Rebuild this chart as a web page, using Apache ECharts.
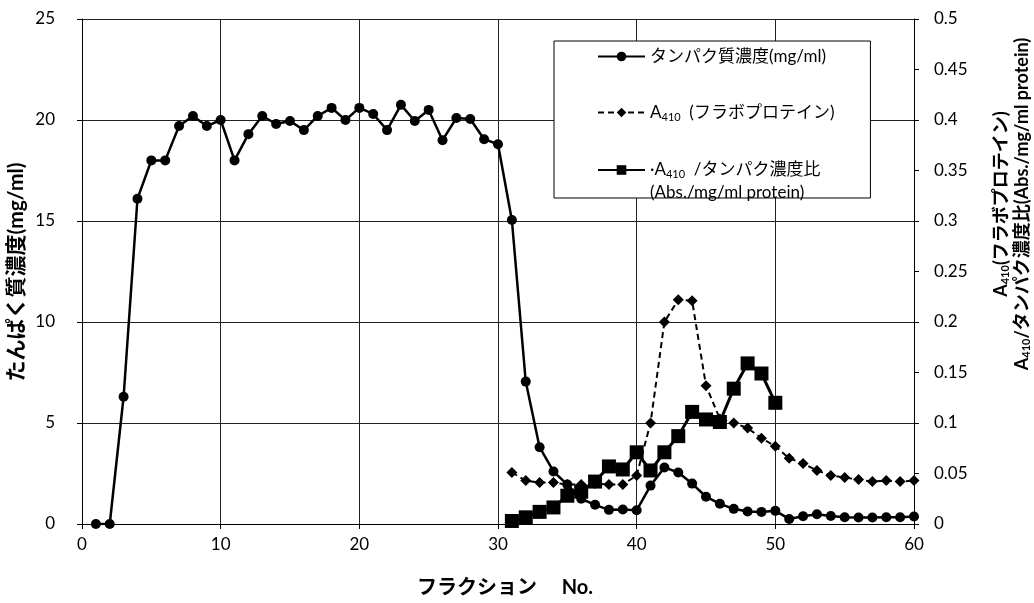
<!DOCTYPE html>
<html>
<head>
<meta charset="utf-8">
<script src="https://cdn.jsdelivr.net/npm/echarts@6/dist/echarts.min.js"></script>
<style>
  html, body { margin: 0; padding: 0; background: #fff; }
  #chart { width: 1034px; height: 603px; }
</style>
</head>
<body>
<div id="chart"></div>
<script>
var FONT = "Lato, 'Noto Sans CJK JP', sans-serif";

// protein concentration (mg/ml), fractions 1-60
var proteinFractions = [1, 2, 3, 4, 5, 6, 7, 8, 9, 10, 11, 12, 13, 14, 15, 16, 17, 18, 19, 20,
  21, 22, 23, 24, 25, 26, 27, 28, 29, 30, 31, 32, 33, 34, 35, 36, 37, 38, 39, 40,
  41, 42, 43, 44, 45, 46, 47, 48, 49, 50, 51, 52, 53, 54, 55, 56, 57, 58, 59, 60];
var proteinValues = [0, 0, 6.3, 16.1, 18.0, 18.0, 19.7, 20.2, 19.7, 20.0, 18.0, 19.3, 20.2, 19.8, 19.95, 19.5, 20.2, 20.6, 20.0, 20.6,
  20.3, 19.5, 20.75, 19.95, 20.5, 19.0, 20.1, 20.05, 19.05, 18.8, 15.05, 7.05, 3.8, 2.6, 1.95, 1.25, 0.95, 0.7, 0.72, 0.68,
  1.9, 2.8, 2.55, 2.0, 1.35, 1.0, 0.75, 0.62, 0.6, 0.65, 0.25, 0.38, 0.48, 0.4, 0.33, 0.32, 0.32, 0.33, 0.33, 0.37];

// A410 (flavoprotein), fractions 31-60
var flavoFractions = [31, 32, 33, 34, 35, 36, 37, 38, 39, 40, 41, 42, 43, 44, 45, 46, 47, 48, 49, 50,
  51, 52, 53, 54, 55, 56, 57, 58, 59, 60];
var flavoValues = [0.051, 0.043, 0.041, 0.041, 0.039, 0.039, 0.040, 0.039, 0.039, 0.048, 0.100, 0.200, 0.222, 0.221, 0.137, 0.104, 0.100, 0.095, 0.085, 0.077,
  0.065, 0.060, 0.053, 0.048, 0.046, 0.044, 0.042, 0.043, 0.042, 0.043];

// A410 / protein ratio, fractions 31-50
var ratioFractions = [31, 32, 33, 34, 35, 36, 37, 38, 39, 40, 41, 42, 43, 44, 45, 46, 47, 48, 49, 50];
var ratioValues = [0.003, 0.0066, 0.012, 0.0164, 0.028, 0.032, 0.042, 0.057, 0.054, 0.071, 0.053, 0.071, 0.087, 0.111, 0.1035, 0.101, 0.134, 0.159, 0.149, 0.12];

var xTicks = [0, 60, 10];
var leftTicks = [0, 25, 5];
var rightTicks = [0, 0.5, 0.05];

function pairs(xs, ys) {
  return xs.map(function (x, i) { return [x, ys[i]]; });
}

var legendLabels = {
  protein: 'タンパク質濃度(mg/ml)',
  flavo: 'A{sub|410}  (フラボプロテイン)',
  ratio: '·A{sub|410}  /タンパク濃度比'
};

var subStyle = { fontSize: 11, verticalAlign: 'bottom', padding: [9, 0, 0, 0], fontFamily: FONT };
var nameRich = {
  m: { font: 'bold 18px ' + FONT, fill: '#000' },
  s: { font: 'bold 11px ' + FONT, fill: '#000', verticalAlign: 'bottom', padding: [9, 0, 0, 0] }
};

var chart = echarts.init(document.getElementById('chart'), null, { renderer: 'canvas' });

var option = {
  backgroundColor: '#fff',
  animation: false,
  textStyle: { fontFamily: FONT },
  grid: { left: 82, right: 120, top: 19, bottom: 79 },
  legend: {
    orient: 'vertical',
    left: 554,
    top: 41,
    itemWidth: 47,
    itemHeight: 12,
    itemGap: 39,
    padding: [7, 36, 18, 43],
    backgroundColor: '#fff',
    borderColor: '#000',
    borderWidth: 1,
    data: ['protein', 'flavo', 'ratio'],
    formatter: function (name) { return legendLabels[name]; },
    textStyle: {
      fontSize: 17,
      color: '#000',
      fontFamily: FONT,
      rich: { sub: subStyle }
    }
  },
  xAxis: {
    type: 'value',
    min: xTicks[0], max: xTicks[1], interval: xTicks[2],
    axisLine: { lineStyle: { color: '#000', width: 1 } },
    axisTick: { show: true, length: 5, lineStyle: { color: '#000' } },
    axisLabel: { color: '#000', fontSize: 17, margin: 12, fontFamily: FONT },
    splitLine: { show: true, lineStyle: { color: '#222', width: 1 } }
  },
  yAxis: [
    {
      type: 'value',
      min: leftTicks[0], max: leftTicks[1], interval: leftTicks[2],
      axisLine: { show: true, lineStyle: { color: '#000', width: 1 } },
      axisTick: { show: true, length: 5, lineStyle: { color: '#000' } },
      axisLabel: { color: '#000', fontSize: 17, margin: 27, fontFamily: FONT },
      splitLine: { show: true, lineStyle: { color: '#222', width: 1 } }
    },
    {
      type: 'value',
      position: 'right',
      min: rightTicks[0], max: rightTicks[1], interval: rightTicks[2],
      axisLine: { show: true, lineStyle: { color: '#000', width: 1 } },
      axisTick: { show: true, length: 5, lineStyle: { color: '#000' } },
      axisLabel: { color: '#000', fontSize: 17, margin: 20, fontFamily: FONT },
      splitLine: { show: false }
    }
  ],
  series: [
    {
      name: 'protein',
      type: 'line',
      yAxisIndex: 0,
      data: pairs(proteinFractions, proteinValues),
      symbol: 'circle',
      symbolSize: 10,
      itemStyle: { color: '#000' },
      lineStyle: { color: '#000', width: 2.5 },
      z: 2
    },
    {
      name: 'flavo',
      type: 'line',
      yAxisIndex: 1,
      data: pairs(flavoFractions, flavoValues),
      symbol: 'diamond',
      symbolSize: 11,
      itemStyle: { color: '#000' },
      lineStyle: { color: '#000', width: 2, type: [6, 4] },
      z: 3
    },
    {
      name: 'ratio',
      type: 'line',
      yAxisIndex: 1,
      data: pairs(ratioFractions, ratioValues),
      symbol: 'rect',
      symbolSize: 14,
      itemStyle: { color: '#000' },
      lineStyle: { color: '#000', width: 3 },
      z: 4
    }
  ],
  graphic: [
    {
      type: 'text',
      x: 650, y: 193, z: 100,
      style: { text: '(Abs./mg/ml protein)', font: '17px ' + FONT, fill: '#000', verticalAlign: 'middle' }
    },
    {
      type: 'text',
      x: 16, y: 272, rotation: Math.PI / 2, z: 100,
      style: {
        text: 'たんぱく質濃度(mg/ml)', font: 'bold 21px ' + FONT, fill: '#000',
        align: 'center', verticalAlign: 'middle'
      }
    },
    {
      type: 'text',
      x: 505, y: 588, z: 100,
      style: {
        text: 'フラクション　 No.', font: 'bold 20px ' + FONT, fill: '#000',
        align: 'center', verticalAlign: 'middle'
      }
    },
    {
      type: 'text',
      x: 1001, y: 204, rotation: Math.PI / 2, z: 100,
      style: {
        text: '{m|A}{s|410}{m|(フラボプロテイン)}', fill: '#000',
        align: 'center', verticalAlign: 'middle', rich: nameRich
      }
    },
    {
      type: 'text',
      x: 1022, y: 204, rotation: Math.PI / 2, z: 100,
      style: {
        text: '{m|A}{s|410}{m|/タンパク濃度比(Abs./mg/ml protein)}', fill: '#000',
        align: 'center', verticalAlign: 'middle', rich: nameRich
      }
    }
  ]
};

chart.setOption(option);

window.addEventListener('resize', function () {
  chart.resize();
});
</script>
</body>
</html>
